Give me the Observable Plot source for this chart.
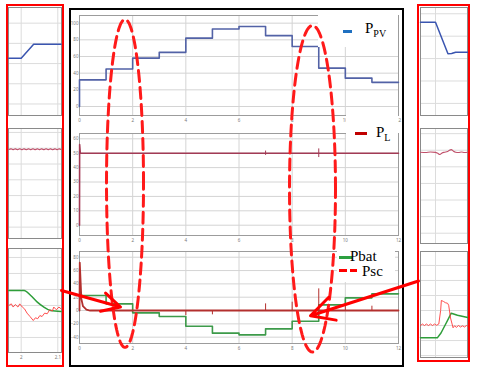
<!DOCTYPE html>
<html><head><meta charset="utf-8">
<script src="https://cdn.jsdelivr.net/npm/d3@7"></script>
<script src="https://cdn.jsdelivr.net/npm/@observablehq/plot@0.6"></script>
<style>
html,body{margin:0;padding:0;background:#fff;}
#fig{position:relative;width:480px;height:374px;overflow:hidden;background:#fff;font-family:"Liberation Serif","Times New Roman",serif;}
.abs{position:absolute;}
.abs svg{display:block;overflow:visible;}
.box{position:absolute;box-sizing:border-box;}
.cover{position:absolute;background:#fff;}
.sw{position:absolute;display:block;}
.lt{position:absolute;font-size:15px;line-height:15px;color:#000;white-space:nowrap;}
.lt .s{font-size:10px;position:relative;top:4px;}
</style></head><body><div id="fig"></div>
<script>
// ---------------- data ----------------
// main simulation (time in s)
const stepTimes = [0,1,2,3,4,5,6,7,8,9,10,11,12];
const pvLevels  = [32,45,58,65,82,93,96,85,72,46,34,29];
const batLevels = [22.5,10,-3.5,-9,-23.5,-34,-36.5,-27.5,-16,8.5,19,25];
const plTimes = [0,0.005,0.03,12];
const plVals  = [0,56,50,50];
const plSpikeT  = [7,9];
const plSpikeLo = [48.5,47];
const plSpikeHi = [51.5,53];
const pscTimes = [0,0.01,0.07,0.13,0.26,0.4,12];
const pscVals  = [0,72,17.5,6.5,1.5,0,0];
const pscSpikeT = [4,5,7,8,9,10,11];
const pscSpikeV = [-7.5,-6.5,10,12.5,32.5,7.5,6.5];
const mainXTicks = [0,2,4,6,8,10,12];
const pvTicks  = [0,20,40,60,80,100];
const plTicks  = [0,10,20,30,40,50,60];
const batTicks = [-40,-20,0,20,40,60,80];

// zoom around t = 2 s
const lzPVT = [1.966,2.0,2.034,2.109];
const lzPVV = [45.3,45.3,59.2,59.2];
const lzPLT = [1.966,1.972,1.978,1.984,1.990,1.996,2.002,2.008,2.014,2.020,2.026,2.032,2.038,2.044,2.050,2.056,2.062,2.068,2.074,2.080,2.086,2.092,2.098,2.104,2.109];
const lzPLV = [49.2,49.6,49.0,49.6,49.1,49.7,49.0,49.6,49.1,49.6,49.0,49.7,49.1,49.6,49.0,49.6,49.1,49.7,49.0,49.6,49.1,49.6,49.0,49.6,49.2];
const lzBatT = [1.966,2.008,2.026,2.044,2.062,2.080,2.109];
const lzBatV = [9.4,9.4,6.25,2.1,-1.0,-3.1,-3.75];
const lzPscT = [1.966,1.973,1.978,1.984,1.991,1.996,2.003,2.009,2.016,2.024,2.033,2.039,2.045,2.051,2.057,2.064,2.071,2.078,2.085,2.089,2.096,2.103,2.109];
const lzPscV = [0,1.0,-1.0,0.6,-1.0,1.0,-1.0,-2.1,-4.8,-6.9,-9.4,-7.7,-8.3,-6.3,-6.9,-4.8,-5.2,-2.7,-3.5,-1.0,-2.7,-1.0,-2.1];
const lzXTicks = [2,2.1];

// zoom around t = 9 s
const rzPVT = [8.959,9.0,9.034,9.044,9.055,9.088];
const rzPVV = [72.5,72.5,44.3,44.6,45.7,45.7];
const rzPLT = [8.959,8.973,8.986,9.0,9.005,9.012,9.018,9.025,9.033,9.038,9.043,9.049,9.055,9.063,9.071,9.079,9.088];
const rzPLV = [48.8,48.6,48.9,48.7,48.3,47.4,48.4,48.8,49.2,50.0,50.4,49.4,48.8,48.6,48.9,48.6,48.8];
const rzBatT = [8.959,9.005,9.015,9.030,9.043,9.06,9.088];
const rzBatV = [-8.2,-8.2,-5,2,8.2,6.8,5.3];
const rzPscT = [8.959,8.964,8.970,8.975,8.981,8.986,8.992,8.997,9.003,9.009,9.014,9.016,9.022,9.027,9.033,9.036,9.041,9.048,9.052,9.057,9.063,9.068,9.074,9.079,9.085,9.088];
const rzPscV = [0,1,0,1,0,1,0,1,0.2,1,10,16.7,16,15.2,14.8,13.5,5,-1.5,-0.2,-1.2,0,-1,-0.2,-1,0,-0.5];
const rzXTicks = [9];

// annotations (in main-time / figure-fraction units)
const ellCx = [1.712, 8.765];
const ellCy = [0.489, 0.5035];
const ellRx = [0.696, 0.865];
const ellRy = [0.4385, 0.4366];
const arrX1 = [-0.677, 12.753];
const arrY1 = [0.7754, 0.7500];
const arrX2 = [1.542, 8.690];
const arrY2 = [0.8195, 0.8430];

// legend labels
const legendNames = [["P","PV"],["P","L"],["Pbat",""],["Psc",""]];

// ---------------- helpers ----------------
const C = {pv:"#5262a6", pl:"#a23a55", bat:"#3d9a4a", psc:"#b3302e",
           zpv:"#3a55b0", zpl:"#c0506a", zbat:"#2e9e3a", zpsc:"#ff3b3b"};
const fig = document.getElementById("fig");
function place(el, left, top){const d=document.createElement("div");d.className="abs";d.style.left=left+"px";d.style.top=top+"px";d.appendChild(el);fig.appendChild(d);return d;}
const steps = (lv) => [...stepTimes.slice(0,lv.length).map((t,i)=>({t,v:lv[i]})), {t:stepTimes[lv.length], v:lv[lv.length-1]}];
const pts = (T,V) => T.map((t,i)=>({t, v:V[i]}));
const fmt = d3.format("~g");

function panel(o){
  const marks = [
    Plot.gridY(o.yTicks,{stroke:o.grid||"#d4d4d4",strokeOpacity:1}),
    Plot.gridX(o.xTicks,{stroke:o.grid||"#d4d4d4",strokeOpacity:1}),
    Plot.frame({stroke:o.frame||"#9c9c9c"}),
    ...o.marks
  ];
  if(o.yLabels) marks.push(Plot.axisY(o.yTicks,{anchor:"left",label:null,tickSize:0,tickPadding:1,fontSize:4.5,fill:"#777",tickFormat:fmt}));
  if(o.xLabels) marks.push(Plot.axisX(o.xTicks,{anchor:"bottom",label:null,tickSize:0,tickPadding:3,fontSize:4.5,fill:"#777",tickFormat:fmt}));
  return Plot.plot({width:o.w,height:o.h,marginTop:o.mt||0,marginRight:o.mr||0,marginBottom:o.mb||0,marginLeft:o.ml||0,
    x:{domain:o.xd,axis:null,label:null},y:{domain:o.yd,axis:null,label:null},
    style:{background:"transparent",overflow:"visible"},marks});
}

// ---------------- central panels ----------------
const M = {w:333,mt:5,mr:5,mb:11,ml:9,xd:[0,12],xTicks:mainXTicks,yLabels:true,xLabels:true};
place(panel({...M,h:116,yd:[-10.8,109.2],yTicks:pvTicks,marks:[
  Plot.line([{t:0,v:0},...steps(pvLevels)],{x:"t",y:"v",curve:"step-after",stroke:C.pv,strokeWidth:1.6})
]}),70,10);
place(panel({...M,h:118,yd:[-7.15,63.7],yTicks:plTicks,marks:[
  Plot.line(pts(plTimes,plVals),{x:"t",y:"v",stroke:C.pl,strokeWidth:1.6}),
  Plot.ruleX(plSpikeT.map((t,i)=>({t,lo:plSpikeLo[i],hi:plSpikeHi[i]})),{x:"t",y1:"lo",y2:"hi",stroke:C.pl,strokeWidth:1})
]}),70,128);
place(panel({...M,h:108,yd:[-49.5,88.6],yTicks:batTicks,marks:[
  Plot.line(steps(batLevels),{x:"t",y:"v",curve:"step-after",stroke:C.bat,strokeWidth:1.6}),
  Plot.line(pts(pscTimes,pscVals),{x:"t",y:"v",stroke:C.psc,strokeWidth:1.8}),
  Plot.ruleX(pscSpikeT.map((t,i)=>({t,v:pscSpikeV[i]})),{x:"t",y1:0,y2:"v",stroke:C.psc,strokeWidth:1})
]}),70,246);

// ---------------- zoom panels ----------------
const L = {w:53,xd:[1.9653,2.1101],xTicks:lzXTicks,grid:"#dcdcdc",frame:"#8a8a8a"};
place(panel({...L,h:108,yd:[-11.4,95.5],yTicks:[0,20,40,60,80],marks:[
  Plot.line(pts(lzPVT,lzPVV),{x:"t",y:"v",stroke:C.zpv,strokeWidth:1.5})]}),8,7);
place(panel({...L,h:110,yd:[-7.2,62.5],yTicks:plTicks,marks:[
  Plot.line(pts(lzPLT,lzPLV),{x:"t",y:"v",stroke:C.zpl,strokeWidth:1.1})]}),8,128);
place(panel({...L,h:114,mb:10,yd:[-29.4,35.6],yTicks:[-20,-10,0,10,20,30],xLabels:true,marks:[
  Plot.line(pts(lzBatT,lzBatV),{x:"t",y:"v",curve:"monotone-x",stroke:C.zbat,strokeWidth:1.5}),
  Plot.line(pts(lzPscT,lzPscV),{x:"t",y:"v",stroke:C.zpsc,strokeWidth:0.9})]}),8,248);

const R = {w:47,xd:[8.959,9.0874],xTicks:rzXTicks,grid:"#dcdcdc",frame:"#8a8a8a"};
place(panel({...R,h:108,yd:[-10.8,85.6],yTicks:[0,20,40,60,80],marks:[
  Plot.line(pts(rzPVT,rzPVV),{x:"t",y:"v",stroke:C.zpv,strokeWidth:1.5})]}),420,7);
place(panel({...R,h:115,yd:[-6.2,63.1],yTicks:plTicks,marks:[
  Plot.line(pts(rzPLT,rzPLV),{x:"t",y:"v",curve:"monotone-x",stroke:C.zpl,strokeWidth:1.1})]}),420,128);
place(panel({...R,h:106,yd:[-21.3,49.3],yTicks:[-20,-10,0,10,20,30,40],marks:[
  Plot.line(pts(rzBatT,rzBatV),{x:"t",y:"v",stroke:C.zbat,strokeWidth:1.5}),
  Plot.line(pts(rzPscT,rzPscV),{x:"t",y:"v",stroke:C.zpsc,strokeWidth:0.9})]}),420,251);

// ---------------- boxes ----------------
function div(cls, l,t,w,h, extra){const d=document.createElement("div");d.className=cls;Object.assign(d.style,{left:l+"px",top:t+"px",width:w+"px",height:h+"px"},extra||{});fig.appendChild(d);return d;}
div("box",69,8,335,359,{border:"2.5px solid #000"});
div("box",5.5,4,58.5,363,{border:"2.7px solid #ff0000"});
div("box",417.3,4,52.7,357.7,{border:"2.7px solid #ff0000"});

// ---------------- legends (white cover + swatch + label, all separate) ----------------
div("cover",318,12,80,35);
div("cover",346,113,52,34);
div("cover",337,248,58,34);
function swatch(l,t,w,h,c){div("sw",l,t,w,h,{background:c});}
function label(l,t,name){const s=document.createElement("span");s.className="lt";s.style.left=l+"px";s.style.top=t+"px";
  s.appendChild(document.createTextNode(name[0]));
  if(name[1]){const b=document.createElement("span");b.className="s";b.textContent=name[1];s.appendChild(b);}
  fig.appendChild(s);}
swatch(343,30,9,3,"#1f70c0");   label(365,21,legendNames[0]);
swatch(355,131.5,12,3,"#c00000"); label(376,124.5,legendNames[1]);
swatch(339,255.5,13,3,"#2ca040"); label(350,248.5,legendNames[2]);
swatch(339,269,8,3,"#ff0000"); swatch(350,269,7,3,"#ff0000"); label(362,264,legendNames[3]);

// ---------------- overlay: ellipses & arrows ----------------
const th = d3.range(0,121).map(i=>i/120*2*Math.PI);
const ellPts = ellCx.flatMap((cx,k)=>th.map(a=>({k, x:cx+ellRx[k]*Math.cos(a), y:ellCy[k]-ellRy[k]*Math.sin(a)})));
const arrows = arrX1.map((x,i)=>({x1:x,y1:arrY1[i],x2:arrX2[i],y2:arrY2[i]}));
const ov = Plot.plot({width:480,height:374,margin:0,
  x:{domain:[-79/26.583,(480-79)/26.583],axis:null},
  y:{domain:[1,0],axis:null},
  style:{background:"transparent"},
  marks:[
    Plot.line(ellPts,{x:"x",y:"y",z:"k",stroke:"#ff1a1a",strokeWidth:3,strokeDasharray:"11,6"}),
    Plot.arrow(arrows,{x1:"x1",y1:"y1",x2:"x2",y2:"y2",stroke:"#ff0000",strokeWidth:3,headLength:13,headAngle:55})
  ]});
const od = place(ov,0,0); od.style.pointerEvents="none";
</script></body></html>
